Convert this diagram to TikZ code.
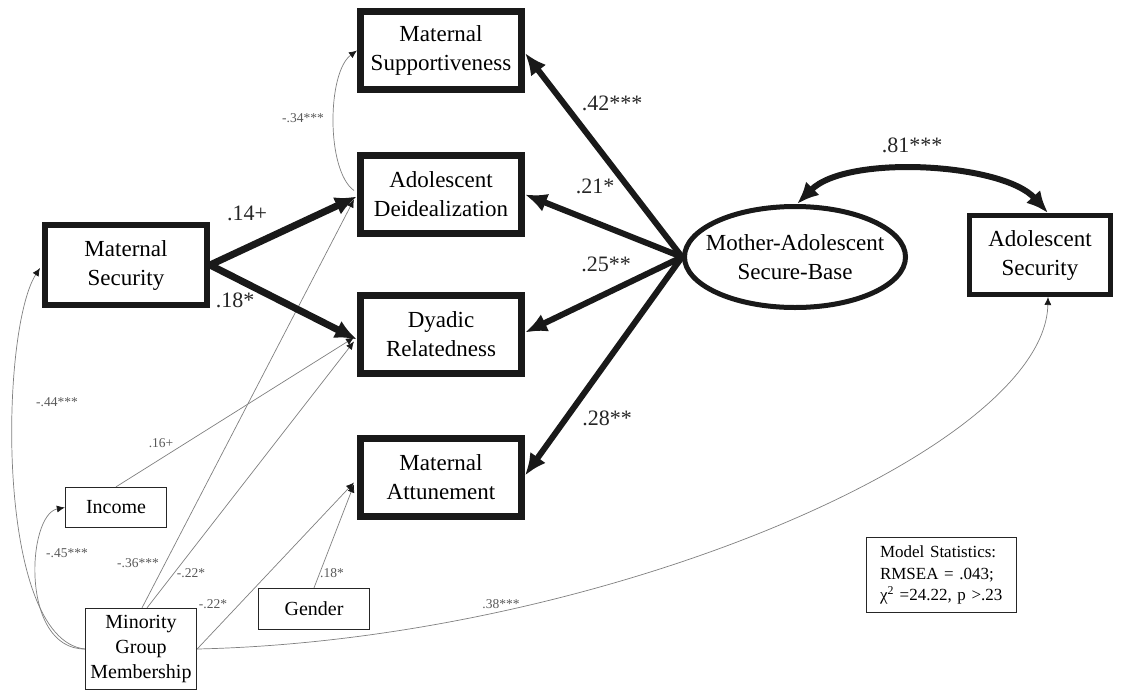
\documentclass[tikz,border=0pt]{standalone}
\usepackage{fontspec}
\setmainfont{Liberation Serif}
\usetikzlibrary{arrows.meta,shapes.geometric,calc}
\begin{document}
\begin{tikzpicture}[x=1pt,y=-1pt,
  bigbox/.style={draw=black!90, line width=7pt, fill=white, minimum width=161pt, minimum height=78pt, align=center, font=\fontsize{23}{29}\selectfont, inner sep=0pt},
  smallbox/.style={draw=black!85, line width=1.3pt, fill=white, align=center, font=\fontsize{20}{25}\selectfont, inner sep=0pt},
  thickarrow/.style={draw=black!90, line width=6pt, -{Latex[length=22pt,width=19pt]}},
  thinline/.style={draw=black!50, line width=0.7pt},
  thinarrow/.style={thinline, -{Latex[length=8pt,width=7pt,color=black!90]}},
  biglabel/.style={font=\fontsize{22}{22}\selectfont, text=black!85, inner sep=0pt},
  smalllabel/.style={font=\fontsize{13.5}{13.5}\selectfont, text=black!65, inner sep=0pt},
]
\useasboundingbox[fill=white] (0,0) rectangle (1131,691);

% nodes
\node[bigbox] (ms) at (441,50.5) {Maternal\\Supportiveness};
\node[bigbox] (ad) at (441,194.5) {Adolescent\\Deidealization};
\node[bigbox] (dr) at (441,334.5) {Dyadic\\Relatedness};
\node[bigbox] (ma) at (441,477.5) {Maternal\\Attunement};
\node[bigbox, line width=6pt, minimum width=162pt, minimum height=80pt] (msec) at (126,265) {Maternal\\Security};
\node[draw=black!90, line width=5pt, ellipse, fill=white, minimum width=221pt, minimum height=101pt, inner sep=0pt] (sb) at (795,257) {};
\node[align=center, font=\fontsize{23}{29}\selectfont, inner sep=0pt] (sbtext) at (sb.center) {Mother-Adolescent\\Secure-Base};
\node[bigbox, line width=5pt, minimum width=141pt, minimum height=79pt] (as) at (1040,255) {Adolescent\\Security};
\node[smallbox, minimum width=101pt, minimum height=40pt] (inc) at (116,507.5) {Income};
\node[smallbox, minimum width=111pt, minimum height=81pt] (min) at (141,649) {Minority\\Group\\Membership};
\node[smallbox, minimum width=111pt, minimum height=41pt] (gen) at (314,609) {Gender};
\node[smallbox, minimum width=150pt, minimum height=75pt, text width=123pt, align=left, font=\fontsize{17}{21.5}\selectfont] (stats) at (941.5,575) {Model Statistics:\\RMSEA = .043;\\χ\textsuperscript{2} =24.22, p >.23};

% thin connectors
\draw[thinarrow] ($(ad.west)+(-3,-4)$) .. controls +(-28,-20) and +(-30,22) .. (ms.west);
\draw[thinarrow] (min.west) .. controls +(-90,-10) and +(-40,62) .. ($(msec.west)+(-2,3)$);
\draw[thinarrow] (min.west) .. controls +(-65,0) and +(-38,7) .. (inc.west);
\draw[thinarrow] (inc.north) -- ($(dr.west)+(-3,3)$);
\draw[thinarrow] ($(min.north)+(1,0)$) -- ($(ad.west)+(-3,5)$);
\draw[thinarrow] ($(min.north)+(6,0)$) -- ($(dr.west)+(-3,7)$);
\draw[thinarrow] (min.east) -- ($(ma.west)+(-3,5)$);
\draw[thinarrow] (gen.north) -- ($(ma.west)+(-3,7)$);
\draw[thinarrow] (min.east) .. controls (600,640) and (1045,450) .. ($(as.south)+(8,0)$);

% thick arrows
\draw[thickarrow, line width=7pt] (msec.east) -- ($(ad.west)+(0,2)$);
\draw[thickarrow, line width=7pt] (msec.east) -- ($(dr.west)+(0,5)$);
\draw[thickarrow] (sb.west) -- ($(ms.east)+(0,2.5)$);
\draw[thickarrow] (sb.west) -- (ad.east);
\draw[thickarrow] (sb.west) -- ($(dr.east)+(0,-2)$);
\draw[thickarrow] (sb.west) -- ($(ma.east)+(0,-2)$);
\draw[draw=black!90, line width=6pt, {Latex[length=22pt,width=19pt]}-{Latex[length=22pt,width=19pt]}] ($(sb.north)+(2,0)$) .. controls +(50,-50) and +(-45,-50) .. ($(as.north)+(8,0)$);

% big labels
\node[biglabel] (l14) at (247,213) {.14+};
\node[biglabel] (l18) at (235,300) {.18*};
\node[biglabel] (l42) at (612,103) {.42***};
\node[biglabel] (l21) at (595,186) {.21*};
\node[biglabel] (l25) at (606,264) {.25**};
\node[biglabel] (l28) at (607,418) {.28**};
\node[biglabel] (l81) at (912,145) {.81***};

% small labels
\node[smalllabel] (s34) at (303,118) {-.34***};
\node[smalllabel] (s44) at (57,402) {-.44***};
\node[smalllabel] (s16) at (161,443) {.16+};
\node[smalllabel] (s45) at (67,553) {-.45***};
\node[smalllabel] (s36) at (138,563) {-.36***};
\node[smalllabel] (s22a) at (191,573) {-.22*};
\node[smalllabel] (s22b) at (213,604) {-.22*};
\node[smalllabel] (s18) at (332,573) {.18*};
\node[smalllabel] (s38) at (501,604) {.38***};
\end{tikzpicture}
\end{document}
